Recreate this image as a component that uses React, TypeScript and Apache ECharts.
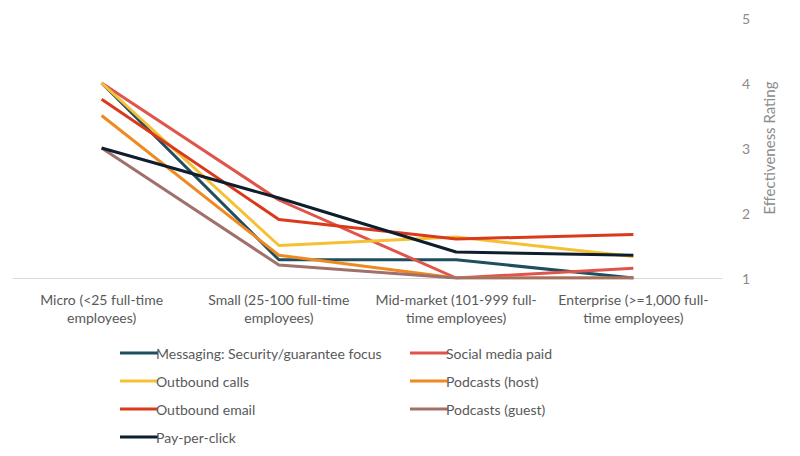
import React, { useEffect, useRef } from "react";
import * as echarts from "echarts";

const categories = [
  "Micro (<25 full-time\nemployees)",
  "Small (25-100 full-time\nemployees)",
  "Mid-market (101-999 full-\ntime employees)",
  "Enterprise (>=1,000 full-\ntime employees)",
];
const seriesNames = [
  "Messaging: Security/guarantee focus",
  "Social media paid",
  "Outbound calls",
  "Podcasts (host)",
  "Outbound email",
  "Podcasts (guest)",
  "Pay-per-click",
];
const seriesColors = ["#1f4e5f", "#e0544a", "#f5c133", "#ef8a22", "#d93a1c", "#a0716b", "#0e1e2c"];
const messaging = [4, 1.28, 1.28, 1.0];
const socialPaid = [4, 2.2, 1.0, 1.15];
const outboundCalls = [4, 1.5, 1.63, 1.33];
const podcastsHost = [3.5, 1.35, 1.0, 1.0];
const outboundEmail = [3.75, 1.9, 1.6, 1.67];
const podcastsGuest = [3, 1.2, 1.0, 1.0];
const payPerClick = [3, 2.23, 1.4, 1.35];
const allData = [messaging, socialPaid, outboundCalls, podcastsHost, outboundEmail, podcastsGuest, payPerClick];
const yTicks = [1, 2, 3, 4, 5];

export default function App() {
  const ref = useRef<HTMLDivElement>(null);
  useEffect(() => {
    const chart = echarts.init(ref.current!, null, { renderer: "svg" });
    const font = "Lato";
    const legends = seriesNames.map((n, i) => ({
      data: [n],
      left: i % 2 === 0 ? 107 : 397,
      top: 333 + Math.floor(i / 2) * 28,
      icon: "path://M0,0H40V3H0Z",
      itemWidth: 38,
      itemHeight: 3,
      itemGap: 0,
      textStyle: { color: "#595959", fontSize: 14, fontFamily: font, padding: [0, 0, 0, -7] },
    }));
    chart.setOption({
      animation: false,
      legend: legends,
      grid: { left: 5, right: 70, top: 10, bottom: 170 },
      xAxis: {
        type: "category",
        data: categories,
        boundaryGap: true,
        axisLine: { lineStyle: { color: "#d9d9d9" } },
        axisTick: { show: false },
        axisLabel: { interval: 0, color: "#595959", fontSize: 14, fontFamily: font, lineHeight: 18, margin: 12 },
      },
      yAxis: {
        type: "value",
        position: "right",
        min: 1,
        max: 5,
        interval: 1,
        splitLine: { show: false },
        axisLine: { show: false },
        axisLabel: { color: "#8c8c8c", fontSize: 14, fontFamily: font, margin: 20, formatter: (v: number) => (yTicks.includes(v) ? String(v) : "") },
        name: "Effectiveness Rating",
        nameLocation: "middle",
        nameRotate: 90,
        nameGap: 38,
        nameTextStyle: { color: "#8c8c8c", fontSize: 15, fontFamily: font },
      },
      series: seriesNames.map((n, i) => ({
        name: n,
        type: "line",
        data: allData[i],
        symbol: "none",
        color: seriesColors[i],
        lineStyle: { width: 3, color: seriesColors[i] },
      })),
    });
    return () => chart.dispose();
  }, []);
  return <div ref={ref} style={{ width: 784, height: 440 }} />;
}
